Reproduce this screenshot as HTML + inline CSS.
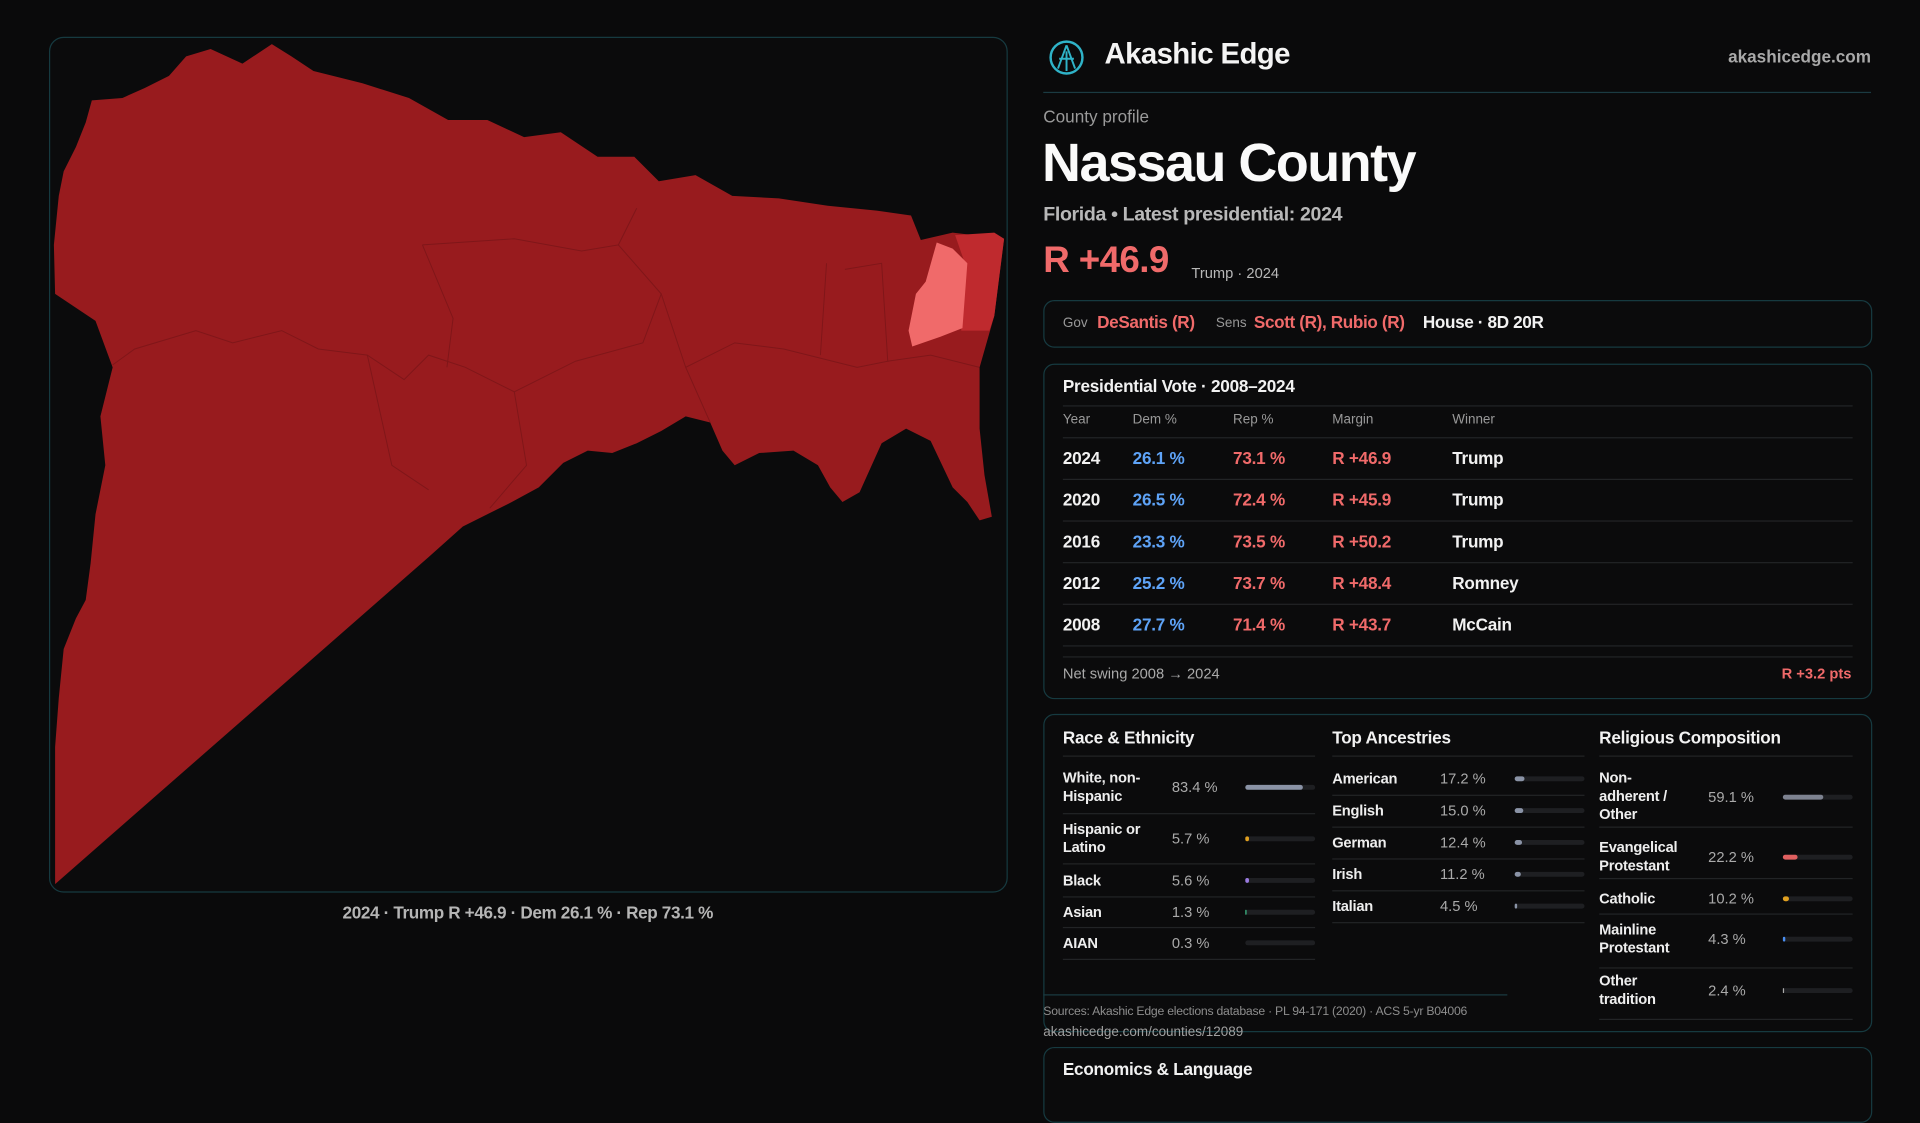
<!DOCTYPE html>
<html><head><meta charset="utf-8"><style>
html,body{margin:0;padding:0;background:#0a0a0b;width:1920px;height:1080px;overflow:hidden}
#w{position:absolute;left:0;top:0;width:1568px;height:882px;transform:scale(1.22449);transform-origin:0 0;font-family:"Liberation Sans",sans-serif;color:#eee}
.a{position:absolute;white-space:nowrap}
.box{position:absolute;border:1px solid #163a40;border-radius:9px;background:#0b0b0c}
.ln{position:absolute;height:1px;background:#222426}
.t{font-size:14px;font-weight:600;color:#f2f2f2;letter-spacing:-0.2px}
.g{color:#a9a9a9}
.r{color:#f06a6a}
.b{color:#5ea3f7}
.bar{position:absolute;height:4px;border-radius:2px;background:#1e1f22;width:57px}
.bar i{position:absolute;left:0;top:0;height:4px;border-radius:2px}
.lab{font-size:12px;font-weight:600;color:#eee;line-height:15px;letter-spacing:-0.2px}
.val{font-size:12px;color:#aaa}
</style></head><body><div id="w">
<div class="box" style="left:40px;top:30px;width:781px;height:697px;border-radius:12px"></div>
<svg class="a" style="left:0;top:0" width="1568" height="882" viewBox="0 0 1568 882">
<polygon fill="#981b1e" points="45,722 45,610 48,570 52,530 62,505 70,490 74,460 78,420 86,380 82,340 92,300 78,262 45,240 44,200 48,160 52,140 62,120 70,100 75,82 100,80 118,72 138,62 152,46 172,40 198,52 222,36 238,46 256,58 296,68 334,80 366,98 398,98 428,112 458,108 488,128 518,128 538,148 568,143 598,160 636,162 676,168 716,172 744,176 752,196 778,190 820,195 812,258 800,300 800,350 804,388 810,422 800,425 790,410 778,398 760,360 740,350 720,362 702,402 688,410 678,398 668,380 648,368 620,370 600,380 590,368 580,345 560,340 540,352 520,362 500,370 480,368 460,378 440,398 418,410 398,420 378,430 350,455"/>
<polygon fill="#bf2a2e" points="780,192 812,190 820,195 812,258 808,270 785,270 788,215"/>
<polygon fill="#f06a6a" points="765,198 778,203 790,215 786,268 768,275 745,283 742,270 748,240 756,230"/>
<g fill="none" stroke="#7a1518" stroke-width="0.8" opacity="0.8">
<path d="M345,200 L420,195 L475,205 L505,200 L540,240 L525,280 L470,295 L420,320 L380,300 L350,290 L330,310 L300,290 L260,285 L230,270 L190,280 L160,270 L110,285 L92,298"/>
<path d="M345,200 L370,260 L365,300"/>
<path d="M540,240 L560,300 L580,345"/>
<path d="M505,200 L520,170"/>
<path d="M420,320 L430,380 L400,415"/>
<path d="M300,290 L320,380 L350,400"/>
<path d="M690,220 L720,215 L725,295 L700,300 L640,285 L600,280 L560,300"/>
<path d="M725,295 L760,290 L800,300"/>
<path d="M675,215 L670,290"/>
</g>
</svg>
<div class="a" style="left:0;width:862px;top:737px;text-align:center;font-size:14px;font-weight:600;color:#b5b5b5;letter-spacing:-0.3px">2024 · Trump R +46.9 · Dem 26.1 % · Rep 73.1 %</div>

<svg class="a" style="left:856px;top:32px" width="30" height="30" viewBox="0 0 30 30"><circle cx="15" cy="15" r="13" fill="none" stroke="#2fb3c8" stroke-width="2"/><path d="M15 5 L8 24 M15 5 L22 24 M9 16 L21 16 M15 10 L15 26" stroke="#2fb3c8" stroke-width="1.6" fill="none"/></svg>
<div class="a" style="left:902px;top:31px;font-size:24px;font-weight:600;color:#f4f4f4;letter-spacing:-0.5px">Akashic Edge</div>
<div class="a" style="right:40px;top:38px;font-size:14px;font-weight:600;color:#a9a9a9">akashicedge.com</div>
<div class="a" style="left:852px;top:75px;width:676px;height:1px;background:#1b3b42"></div>
<div class="a" style="left:852px;top:87px;font-size:14px;color:#9a9a9a">County profile</div>
<div class="a" style="left:851px;top:109px;font-size:44px;font-weight:600;color:#fafafa;letter-spacing:-1.2px">Nassau County</div>
<div class="a" style="left:852px;top:167px;font-size:16px;font-weight:600;color:#b8b8b8;letter-spacing:-0.3px">Florida • Latest presidential: 2024</div>
<div class="a" style="left:852px;top:196px;font-size:30px;font-weight:600;color:#f06a6a;letter-spacing:-0.5px">R +46.9</div>
<div class="a" style="left:973px;top:216px;font-size:12px;color:#b8b8b8">Trump · 2024</div>

<div class="box" style="left:852px;top:245px;width:675px;height:37px"></div>
<div class="a" style="left:868px;top:258px;font-size:11px;color:#999">Gov</div>
<div class="a r" style="left:896px;top:255px;font-size:14px;font-weight:600;letter-spacing:-0.3px">DeSantis (R)</div>
<div class="a" style="left:993px;top:258px;font-size:11px;color:#999">Sens</div>
<div class="a r" style="left:1024px;top:255px;font-size:14px;font-weight:600;letter-spacing:-0.3px">Scott (R), Rubio (R)</div>
<div class="a" style="left:1162px;top:255px;font-size:14px;font-weight:600;color:#f2f2f2;letter-spacing:-0.3px">House · 8D 20R</div>

<div class="box" style="left:852px;top:297px;width:675px;height:272px"></div>
<div class="a t" style="left:868px;top:307px">Presidential Vote · 2008–2024</div>
<div class="ln" style="left:868px;top:331px;width:645px"></div>
<div class="a" style="left:868px;top:337px;font-size:11px;color:#999">Year</div>
<div class="a" style="left:925px;top:337px;font-size:11px;color:#999">Dem %</div>
<div class="a" style="left:1007px;top:337px;font-size:11px;color:#999">Rep %</div>
<div class="a" style="left:1088px;top:337px;font-size:11px;color:#999">Margin</div>
<div class="a" style="left:1186px;top:337px;font-size:11px;color:#999">Winner</div>
<div class="ln" style="left:868px;top:357px;width:645px"></div>
<div class="a t" style="left:868px;top:366px">2024</div><div class="a t b" style="left:925px;top:366px">26.1 %</div><div class="a t r" style="left:1007px;top:366px">73.1 %</div><div class="a t r" style="left:1088px;top:366px">R +46.9</div><div class="a t" style="left:1186px;top:366px">Trump</div>
<div class="ln" style="left:868px;top:391px;width:645px"></div>
<div class="a t" style="left:868px;top:400px">2020</div><div class="a t b" style="left:925px;top:400px">26.5 %</div><div class="a t r" style="left:1007px;top:400px">72.4 %</div><div class="a t r" style="left:1088px;top:400px">R +45.9</div><div class="a t" style="left:1186px;top:400px">Trump</div>
<div class="ln" style="left:868px;top:425px;width:645px"></div>
<div class="a t" style="left:868px;top:434px">2016</div><div class="a t b" style="left:925px;top:434px">23.3 %</div><div class="a t r" style="left:1007px;top:434px">73.5 %</div><div class="a t r" style="left:1088px;top:434px">R +50.2</div><div class="a t" style="left:1186px;top:434px">Trump</div>
<div class="ln" style="left:868px;top:459px;width:645px"></div>
<div class="a t" style="left:868px;top:468px">2012</div><div class="a t b" style="left:925px;top:468px">25.2 %</div><div class="a t r" style="left:1007px;top:468px">73.7 %</div><div class="a t r" style="left:1088px;top:468px">R +48.4</div><div class="a t" style="left:1186px;top:468px">Romney</div>
<div class="ln" style="left:868px;top:493px;width:645px"></div>
<div class="a t" style="left:868px;top:502px">2008</div><div class="a t b" style="left:925px;top:502px">27.7 %</div><div class="a t r" style="left:1007px;top:502px">71.4 %</div><div class="a t r" style="left:1088px;top:502px">R +43.7</div><div class="a t" style="left:1186px;top:502px">McCain</div>
<div class="ln" style="left:868px;top:527px;width:645px"></div>
<div class="ln" style="left:868px;top:536px;width:645px"></div>
<div class="a" style="left:868px;top:543px;font-size:12px;color:#aaa">Net swing 2008 → 2024</div>
<div class="a r" style="right:56px;top:543px;font-size:12px;font-weight:600">R +3.2 pts</div>

<div class="box" style="left:852px;top:583px;width:675px;height:258px"></div>
<div class="a t" style="left:868px;top:594px">Race &amp; Ethnicity</div>
<div class="a t" style="left:1088px;top:594px">Top Ancestries</div>
<div class="a t" style="left:1306px;top:594px">Religious Composition</div>
<div class="ln" style="left:868px;top:617px;width:206px"></div>
<div class="ln" style="left:1088px;top:617px;width:206px"></div>
<div class="ln" style="left:1306px;top:617px;width:207px"></div>

<div class="a lab" style="left:868px;top:628px">White, non-<br>Hispanic</div><div class="a val" style="left:957px;top:636px">83.4 %</div><div class="bar" style="left:1017px;top:641px"><i style="width:47px;background:#8a93a6"></i></div>
<div class="ln" style="left:868px;top:664px;width:206px"></div>
<div class="a lab" style="left:868px;top:670px">Hispanic or<br>Latino</div><div class="a val" style="left:957px;top:678px">5.7 %</div><div class="bar" style="left:1017px;top:683px"><i style="width:3px;background:#e0a020"></i></div>
<div class="ln" style="left:868px;top:705px;width:206px"></div>
<div class="a lab" style="left:868px;top:712px">Black</div><div class="a val" style="left:957px;top:712px">5.6 %</div><div class="bar" style="left:1017px;top:717px"><i style="width:3px;background:#9a7be0"></i></div>
<div class="ln" style="left:868px;top:732px;width:206px"></div>
<div class="a lab" style="left:868px;top:738px">Asian</div><div class="a val" style="left:957px;top:738px">1.3 %</div><div class="bar" style="left:1017px;top:743px"><i style="width:1px;background:#3fc08a"></i></div>
<div class="ln" style="left:868px;top:757px;width:206px"></div>
<div class="a lab" style="left:868px;top:763px">AIAN</div><div class="a val" style="left:957px;top:763px">0.3 %</div><div class="bar" style="left:1017px;top:768px"></div>
<div class="ln" style="left:868px;top:783px;width:206px"></div>

<div class="a lab" style="left:1088px;top:629px">American</div><div class="a val" style="left:1176px;top:629px">17.2 %</div><div class="bar" style="left:1237px;top:634px"><i style="width:8px;background:#8a93a6"></i></div>
<div class="ln" style="left:1088px;top:649px;width:206px"></div>
<div class="a lab" style="left:1088px;top:655px">English</div><div class="a val" style="left:1176px;top:655px">15.0 %</div><div class="bar" style="left:1237px;top:660px"><i style="width:7px;background:#8a93a6"></i></div>
<div class="ln" style="left:1088px;top:675px;width:206px"></div>
<div class="a lab" style="left:1088px;top:681px">German</div><div class="a val" style="left:1176px;top:681px">12.4 %</div><div class="bar" style="left:1237px;top:686px"><i style="width:6px;background:#8a93a6"></i></div>
<div class="ln" style="left:1088px;top:701px;width:206px"></div>
<div class="a lab" style="left:1088px;top:707px">Irish</div><div class="a val" style="left:1176px;top:707px">11.2 %</div><div class="bar" style="left:1237px;top:712px"><i style="width:5px;background:#8a93a6"></i></div>
<div class="ln" style="left:1088px;top:727px;width:206px"></div>
<div class="a lab" style="left:1088px;top:733px">Italian</div><div class="a val" style="left:1176px;top:733px">4.5 %</div><div class="bar" style="left:1237px;top:738px"><i style="width:2px;background:#8a93a6"></i></div>
<div class="ln" style="left:1088px;top:753px;width:206px"></div>

<div class="a lab" style="left:1306px;top:628px">Non-<br>adherent /<br>Other</div><div class="a val" style="left:1395px;top:644px">59.1 %</div><div class="bar" style="left:1456px;top:649px"><i style="width:33px;background:#7d8290"></i></div>
<div class="ln" style="left:1306px;top:675px;width:207px"></div>
<div class="a lab" style="left:1306px;top:685px">Evangelical<br>Protestant</div><div class="a val" style="left:1395px;top:693px">22.2 %</div><div class="bar" style="left:1456px;top:698px"><i style="width:12px;background:#e06060"></i></div>
<div class="ln" style="left:1306px;top:717px;width:207px"></div>
<div class="a lab" style="left:1306px;top:727px">Catholic</div><div class="a val" style="left:1395px;top:727px">10.2 %</div><div class="bar" style="left:1456px;top:732px"><i style="width:5px;background:#e0a020"></i></div>
<div class="ln" style="left:1306px;top:746px;width:207px"></div>
<div class="a lab" style="left:1306px;top:752px">Mainline<br>Protestant</div><div class="a val" style="left:1395px;top:760px">4.3 %</div><div class="bar" style="left:1456px;top:765px"><i style="width:2px;background:#4a8ef0"></i></div>
<div class="ln" style="left:1306px;top:790px;width:207px"></div>
<div class="a lab" style="left:1306px;top:794px">Other<br>tradition</div><div class="a val" style="left:1395px;top:802px">2.4 %</div><div class="bar" style="left:1456px;top:807px"><i style="width:1px;background:#aaa"></i></div>
<div class="ln" style="left:1306px;top:832px;width:207px"></div>

<div class="a" style="left:852px;top:812px;width:379px;height:1px;background:#1b3b42"></div>
<div class="a" style="left:852px;top:821px;font-size:10px;color:#8d8d8d;letter-spacing:-0.2px">Sources: Akashic Edge elections database · PL 94-171 (2020) · ACS 5-yr B04006</div>
<div class="a" style="left:852px;top:837px;font-size:11px;color:#a0a0a0">akashicedge.com/counties/12089</div>

<div class="box" style="left:852px;top:855px;width:675px;height:60px"></div>
<div class="a t" style="left:868px;top:865px">Economics &amp; Language</div>
</div></body></html>
